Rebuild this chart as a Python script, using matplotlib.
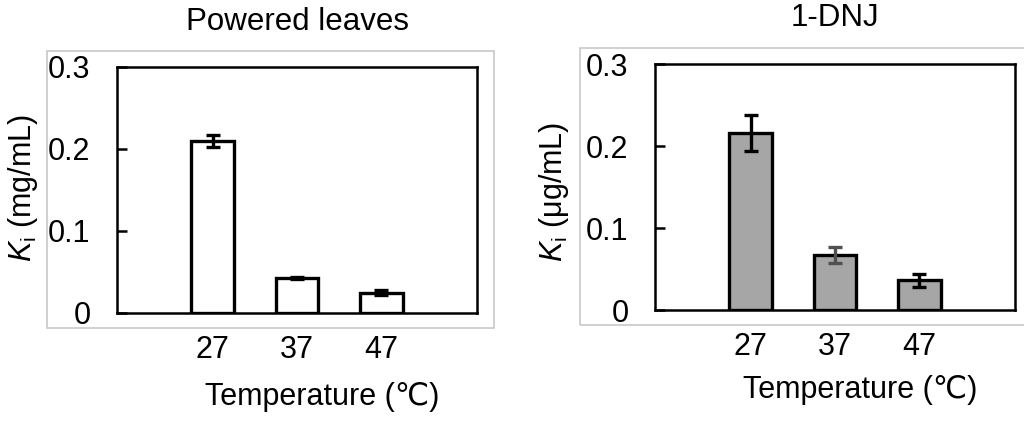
import matplotlib.pyplot as plt
from matplotlib.patches import Rectangle

plt.rcParams['font.family'] = ['Liberation Sans', 'DejaVu Sans']
plt.rcParams['mathtext.fontset'] = 'custom'
plt.rcParams['mathtext.rm'] = 'Liberation Sans'
plt.rcParams['mathtext.it'] = 'Liberation Sans:italic'

TEMPERATURES = ['27', '37', '47']
LEAVES_KI = [0.210, 0.043, 0.025]
LEAVES_ERR = [0.007, 0.0015, 0.003]
DNJ_KI = [0.216, 0.067, 0.036]
DNJ_ERR = [0.022, 0.010, 0.008]
DNJ_ERR_COLORS = ['black', '#505050', 'black']

FONT_SIZE = 22


def drawPanel(fig, rect, box, values, errors, err_colors, fill, title, ylabel,
              ylabel_xy, xlabel_y, title_y):
    fig.patches.append(Rectangle((box[0], box[1]), box[2], box[3], transform=fig.transFigure,
                                 fill=False, edgecolor='#c8c8c8', linewidth=1.2))
    ax = fig.add_axes(rect)
    x = range(len(values))
    ax.bar(x, values, width=0.51, color=fill, edgecolor='black', linewidth=2.4, zorder=2)
    for xi, v, e, c in zip(x, values, errors, err_colors):
        ax.errorbar(xi, v, yerr=e, color=c, capsize=5, capthick=2.4, elinewidth=2.4, zorder=3)
    ax.set_xlim(-1.14, 3.14)
    ax.set_ylim(0, 0.3)
    ax.set_yticks([0, 0.1, 0.2, 0.3])
    ax.set_yticklabels(['0', '0.1', '0.2', '0.3'])
    ax.set_xticks(list(x))
    ax.set_xticklabels(TEMPERATURES)
    ax.tick_params(axis='y', direction='in', length=7, width=1.8, labelsize=FONT_SIZE, pad=19)
    ax.tick_params(axis='x', length=0, labelsize=FONT_SIZE, pad=16)
    for sp in ax.spines.values():
        sp.set_linewidth(1.8)
    ax.set_ylabel(ylabel, fontsize=FONT_SIZE)
    ax.yaxis.set_label_coords(*ylabel_xy)
    fig.text(rect[0] + rect[2] * 0.57, xlabel_y, 'Temperature (℃)', fontsize=FONT_SIZE,
             ha='center', va='center')
    fig.text(rect[0] + rect[2] * 0.5, title_y, title, fontsize=22.5, ha='center', va='center')
    return ax


fig = plt.figure(figsize=(10.24, 4.22), dpi=100)

drawPanel(fig, [117 / 1024, 1 - 313 / 422, 360 / 1024, 246 / 422],
          [47 / 1024, 1 - 328 / 422, 447 / 1024, 277 / 422],
          LEAVES_KI, LEAVES_ERR, ['black'] * 3, 'white',
          'Powered leaves', r'$K_\mathrm{i}$ (mg/mL)', (-0.215, 0.51),
          1 - 397 / 422, 1 - 22 / 422)

drawPanel(fig, [655 / 1024, 1 - 310 / 422, 360 / 1024, 246 / 422],
          [580 / 1024, 1 - 325 / 422, 460 / 1024, 277 / 422],
          DNJ_KI, DNJ_ERR, DNJ_ERR_COLORS, '#a6a6a6',
          '1-DNJ', r'$K_\mathrm{i}$ (μg/mL)', (-0.233, 0.48),
          1 - 390 / 422, 1 - 18 / 422)

fig.savefig('out.png', dpi=100)
